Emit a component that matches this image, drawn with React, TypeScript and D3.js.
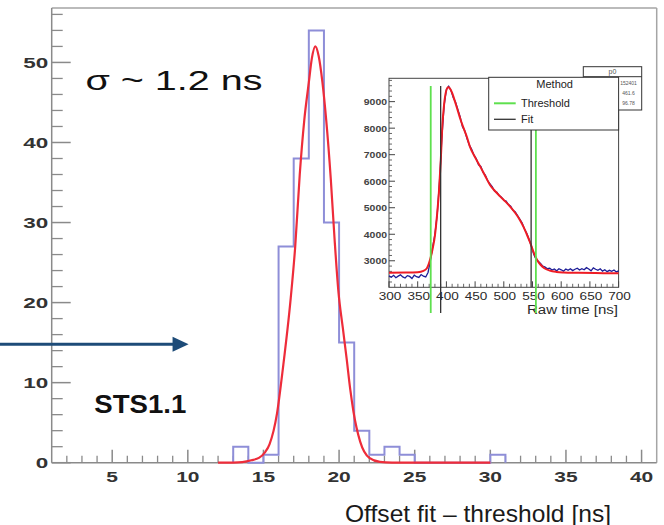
import React from 'react';
import * as d3 from 'd3';

// ---------- main histogram data ----------
const binStarts = [13, 14, 15, 16, 17, 18, 19, 20, 21, 22, 23, 24, 25, 26, 27, 28, 29, 30];
const binCounts = [2, 0, 1, 27, 38, 54, 30, 15, 4, 1, 2, 1, 0, 0, 0, 0, 0, 1];
const binWidth = 1;

// Gaussian fit curve
const fitX = [12, 13, 13.6, 14.2, 14.7, 15.1, 15.4, 15.9, 16.3, 16.8, 17.1, 17.4, 17.7, 18.0, 18.2, 18.43, 18.65, 18.9, 19.15, 19.45, 19.7, 19.95, 20.25, 20.5, 20.75, 20.95, 21.4, 22.0, 22.7, 23.5, 25, 30];
const fitY = [0, 0.02, 0.08, 0.3, 0.6, 1.3, 2.3, 6.2, 12, 20.5, 27, 36, 42.8, 47.5, 50.5, 52, 50.8, 47.5, 42.8, 35.5, 28, 21.5, 16.8, 13, 9, 6.4, 2.6, 0.6, 0.1, 0.01, 0, 0];

const mainXTicks = [5, 10, 15, 20, 25, 30, 35, 40];
const mainXMinor = [2, 3, 4, 6, 7, 8, 9, 11, 12, 13, 14, 16, 17, 18, 19, 21, 22, 23, 24, 26, 27, 28, 29, 31, 32, 33, 34, 36, 37, 38, 39];
const mainYTicks = [0, 10, 20, 30, 40, 50];
const mainYMinor = [2, 4, 6, 8, 12, 14, 16, 18, 22, 24, 26, 28, 32, 34, 36, 38, 42, 44, 46, 48, 52, 54, 56];

// ---------- inset data ----------
const insetCounts = [
  2430, 2380, 2450, 2360, 2420, 2470, 2390, 2350, 2440, 2410,
  2330, 2460, 2400, 2370, 2480, 2420, 2390, 2560, 2980, 3520,
  4000, 4750, 6000, 7600, 8850, 9450, 9580, 9420, 9150, 8980,
  8700, 8420, 8050, 7900, 7600, 7360, 7200, 6980, 6850, 6620,
  6560, 6330, 6220, 6010, 5900, 5790, 5620, 5580, 5460, 5400,
  5280, 5250, 5120, 5060, 4900, 4840, 4700, 4560, 4420, 4200,
  4040, 3800, 3560, 3250, 3060, 2980, 2900, 2800, 2760, 2700,
  2720, 2650, 2690, 2620, 2700, 2660, 2610, 2690, 2640, 2700,
  2630, 2680, 2720, 2650, 2700, 2660, 2740, 2690, 2620, 2730,
  2680, 2640, 2700, 2610, 2660, 2590, 2640, 2600, 2650, 2580,
  2620,
];
const insetTimes = d3.range(300, 701, 4);

const insetFitT = [300, 330, 350, 360, 366, 371, 376, 380, 384, 387, 390, 393, 396, 399, 403, 406, 410, 415, 420, 425, 430, 436, 441, 450, 459, 468, 476, 485, 494, 503, 511, 520, 528, 535, 540, 546, 552, 558, 564, 570, 580, 592, 604, 630, 660, 700];
const insetFitV = [2550, 2555, 2570, 2620, 2720, 3000, 3450, 3950, 4800, 5600, 6700, 8100, 8900, 9350, 9540, 9500, 9330, 9000, 8650, 8300, 8000, 7650, 7300, 6900, 6550, 6180, 5860, 5620, 5420, 5230, 5040, 4800, 4540, 4250, 4000, 3680, 3320, 3030, 2850, 2730, 2630, 2580, 2560, 2545, 2535, 2530];

const insetXTicks = [300, 350, 400, 450, 500, 550, 600, 650, 700];
const insetYTicks = [3000, 4000, 5000, 6000, 7000, 8000, 9000];
const thresholdTimes = [372.7, 555.9];
const fitTimes = [390, 547.6];
const legendTitle = 'Method';
const legendItems = ['Threshold', 'Fit'];
const statsTitle = 'p0';
const statsRows = ['152401', '461.6', '96.78'];

// annotations (in main data units)
const sigmaLabel = 'σ ~ 1.2 ns';
const sigmaPos = [3.23, 46.6];
const stsLabel = 'STS1.1';
const stsPos = [3.82, 6.25];
const arrowY = 14.8;
const arrowX = [-2.6, 10.05];
const xTitle = 'Offset fit – threshold  [ns]';
const insetXTitle = 'Raw time [ns]';

export default function App() {
  const W = 664, H = 525;
  const x = d3.scaleLinear().domain([1, 41]).range([51.7, 656.7]);
  const y = d3.scaleLinear().domain([0, 56.8]).range([462.7, 8]);

  const xi = d3.scaleLinear().domain([300, 700]).range([389, 618.6]);
  const yi = d3.scaleLinear().domain([2000, 9880]).range([287.3, 78.3]);

  // histogram step path
  const histPts: [number, number][] = [];
  histPts.push([binStarts[0], 0]);
  binStarts.forEach((b, i) => {
    histPts.push([b, binCounts[i]]);
    histPts.push([b + binWidth, binCounts[i]]);
  });
  histPts.push([binStarts[binStarts.length - 1] + binWidth, 0]);
  const histPath = d3.line<[number, number]>().x(d => x(d[0])).y(d => y(d[1]))(histPts) || '';

  const fitPath = d3.line<number>().x((_, i) => x(fitX[i])).y(d => y(d)).curve(d3.curveMonotoneX)(fitY) || '';

  const dataPath = d3.line<number>().x((_, i) => xi(insetTimes[i])).y(d => yi(d))(insetCounts) || '';
  const insetFitPath = d3.line<number>().x((_, i) => xi(insetFitT[i])).y(d => yi(d)).curve(d3.curveMonotoneX)(insetFitV) || '';

  const insetYMinor = d3.range(2000, 9881, 200).filter(v => v % 1000 !== 0);
  const insetXMinor = d3.range(300, 701, 10).filter(v => v % 50 !== 0);

  const axisGray = '#8a8a8a';
  const labelFill = '#333';

  const frameL = xi.range()[0], frameR = xi.range()[1];
  const frameT = yi.range()[1], frameB = yi.range()[0];

  // legend & stats geometry
  const legL = 488.7, legR = frameR, legT = 77.3, legB = 130;
  const stL = 583.3, stR = 641.7, stT = 66.7, stHead = 76.7, stB = 110;

  return (
    <svg width={W} height={H} style={{ position: 'absolute', left: 0, top: 0, background: '#fff' }}
      fontFamily="'Liberation Sans', Arial, sans-serif">
      <rect x={0} y={0} width={W} height={H} fill="#fff" />

      {/* main frame */}
      <line x1={x(1)} x2={x(41)} y1={y(56.8)} y2={y(56.8)} stroke="#a5a5a5" strokeWidth={1.5} />
      <line x1={x(41)} x2={x(41)} y1={y(56.8)} y2={y(0)} stroke="#a5a5a5" strokeWidth={1.5} />
      <line x1={x(1)} x2={x(1)} y1={y(56.8)} y2={y(0)} stroke={axisGray} strokeWidth={1.5} />
      <line x1={x(1)} x2={x(41)} y1={y(0)} y2={y(0)} stroke={axisGray} strokeWidth={1.5} />

      {/* y ticks */}
      {mainYTicks.map(t => (
        <g key={'yt' + t}>
          <line x1={x(1)} x2={x(1) + 19} y1={y(t)} y2={y(t)} stroke={axisGray} strokeWidth={1.5} />
          <text transform={`translate(${x(1) - 3.5},${y(t) + 5.5}) scale(1.45,1)`} textAnchor="end"
            fontSize={15.5} fontWeight="bold" fill={labelFill}>{t}</text>
        </g>
      ))}
      {mainYMinor.map(t => (
        <line key={'ym' + t} x1={x(1)} x2={x(1) + 11} y1={y(t)} y2={y(t)} stroke={axisGray} strokeWidth={1.3} />
      ))}
      {/* x ticks */}
      {mainXTicks.map(t => (
        <g key={'xt' + t}>
          <line x1={x(t)} x2={x(t)} y1={y(0)} y2={y(0) - 13} stroke={axisGray} strokeWidth={1.5} />
          <text transform={`translate(${x(t)},${y(0) + 19}) scale(1.5,1)`} textAnchor="middle"
            fontSize={14} fontWeight="bold" fill={labelFill}>{t}</text>
        </g>
      ))}
      {mainXMinor.map(t => (
        <line key={'xm' + t} x1={x(t)} x2={x(t)} y1={y(0)} y2={y(0) - 7} stroke={axisGray} strokeWidth={1.3} />
      ))}

      {/* histogram & fit */}
      <path d={histPath} fill="none" stroke="#8e8ed8" strokeWidth={2} />
      <path d={fitPath} fill="none" stroke="#ee2c3a" strokeWidth={2.2} />

      {/* annotations */}
      <text x={x(sigmaPos[0])} y={y(sigmaPos[1])} fontSize={27} fill="#111"
        textLength={177} lengthAdjust="spacingAndGlyphs">{sigmaLabel}</text>
      <text x={x(stsPos[0])} y={y(stsPos[1])} fontSize={26.5} fontWeight="bold" fill="#111"
        textLength={92} lengthAdjust="spacingAndGlyphs">{stsLabel}</text>
      <line x1={x(arrowX[0])} x2={x(arrowX[1]) - 14} y1={y(arrowY)} y2={y(arrowY)} stroke="#1d4b78" strokeWidth={3} />
      <path d={`M${x(arrowX[1])},${y(arrowY)} L${x(arrowX[1]) - 16},${y(arrowY) - 7.5} L${x(arrowX[1]) - 16},${y(arrowY) + 7.5} Z`} fill="#1d4b78" />
      <text x={345} y={521.5} fontSize={24} fill="#1a1a1a" textLength={266} lengthAdjust="spacingAndGlyphs">{xTitle}</text>

      {/* ---------- inset ---------- */}
      <rect x={frameL} y={frameT} width={frameR - frameL} height={frameB - frameT} fill="#fff" stroke="#444" strokeWidth={1} />

      {/* stats box (behind legend) */}
      <rect x={stL} y={stT} width={stR - stL} height={stB - stT} fill="#fff" stroke="#333" strokeWidth={1} />
      <line x1={stL} x2={stR} y1={stHead} y2={stHead} stroke="#333" strokeWidth={1} />
      <text x={(stL + stR) / 2} y={stHead - 2.5} fontSize={7} textAnchor="middle" fill="#555">{statsTitle}</text>
      {statsRows.map((r, i) => (
        <text key={r} x={628.5} y={85 + i * 10} fontSize={5} textAnchor="middle" fill="#555">{r}</text>
      ))}

      {/* inset ticks */}
      {insetYTicks.map(t => (
        <g key={'iyt' + t}>
          <line x1={frameL} x2={frameL + 6} y1={yi(t)} y2={yi(t)} stroke="#444" strokeWidth={1} />
          <text transform={`translate(${frameL - 2},${yi(t) + 3.5}) scale(1.1,1)`} textAnchor="end"
            fontSize={9.5} fontWeight="bold" fill="#444">{t}</text>
        </g>
      ))}
      {insetYMinor.map(t => (
        <line key={'iym' + t} x1={frameL} x2={frameL + 3} y1={yi(t)} y2={yi(t)} stroke="#555" strokeWidth={0.9} />
      ))}
      {insetXTicks.map(t => (
        <g key={'ixt' + t}>
          <line x1={xi(t)} x2={xi(t)} y1={frameB} y2={frameB - 6} stroke="#444" strokeWidth={1} />
          <text transform={`translate(${xi(t) + 1},${frameB + 12.5}) scale(1.18,1)`} textAnchor="middle"
            fontSize={11.5} fill="#2a2a2a">{t}</text>
        </g>
      ))}
      {insetXMinor.map(t => (
        <line key={'ixm' + t} x1={xi(t)} x2={xi(t)} y1={frameB} y2={frameB - 3.5} stroke="#555" strokeWidth={0.9} />
      ))}
      <text x={527} y={313.5} fontSize={12} fill="#2a2a2a" textLength={91} lengthAdjust="spacingAndGlyphs">{insetXTitle}</text>

      {/* inset data */}
      <path d={dataPath} fill="none" stroke="#1c1c96" strokeWidth={1.3} />
      <path d={insetFitPath} fill="none" stroke="#ee1c24" strokeWidth={2} />

      {/* vertical method lines */}
      {thresholdTimes.map(t => (
        <line key={'th' + t} x1={xi(t)} x2={xi(t)} y1={86} y2={313} stroke="#5ee04e" strokeWidth={1.8} />
      ))}
      {fitTimes.map((t, i) => (
        <line key={'ft' + t} x1={xi(t)} x2={xi(t)} y1={86} y2={i === 0 ? 313 : frameB} stroke="#333" strokeWidth={1.3} />
      ))}

      {/* legend */}
      <rect x={legL} y={legT} width={legR - legL} height={legB - legT} fill="#fff" stroke="#333" strokeWidth={1} />
      <text x={(legL + legR) / 2 + 1} y={88} fontSize={11} textAnchor="middle" fill="#222">{legendTitle}</text>
      {legendItems.map((l, i) => (
        <g key={l}>
          <line x1={494} x2={515.7} y1={103.3 + i * 16} y2={103.3 + i * 16}
            stroke={i === 0 ? '#5ee04e' : '#333'} strokeWidth={i === 0 ? 2 : 1.3} />
          <text x={521} y={107.3 + i * 16} fontSize={11} fill="#222">{l}</text>
        </g>
      ))}
    </svg>
  );
}
